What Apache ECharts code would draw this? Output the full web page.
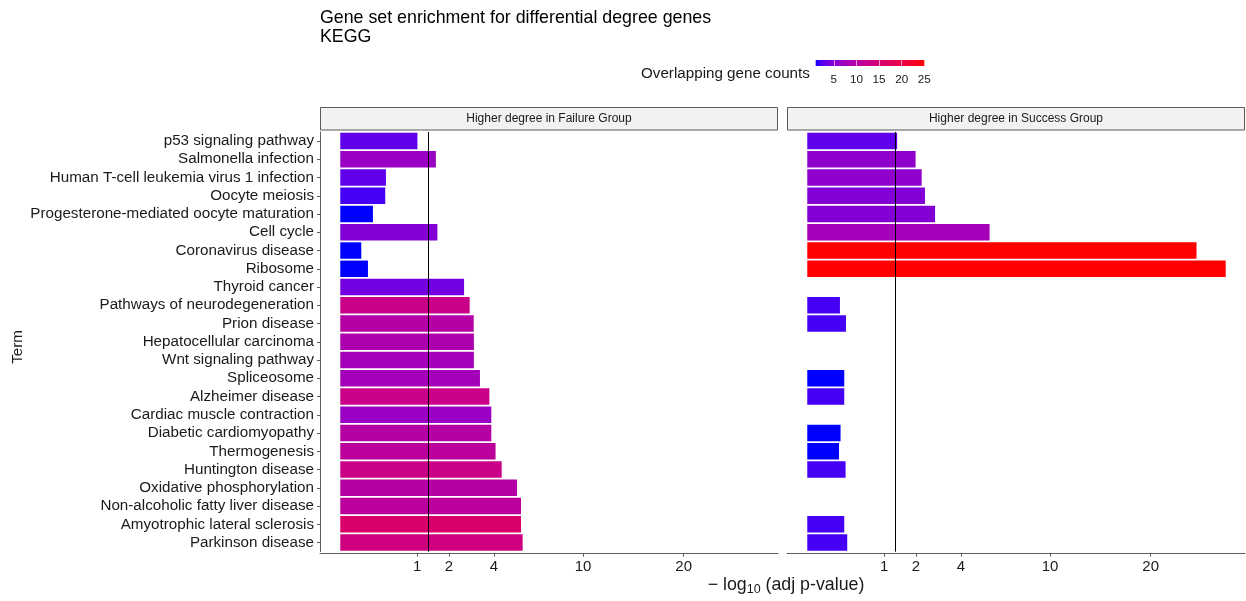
<!DOCTYPE html>
<html>
<head>
<meta charset="utf-8">
<script src="https://cdn.jsdelivr.net/npm/echarts@6/dist/echarts.min.js"></script>
<style>
  html, body { margin: 0; padding: 0; background: #ffffff; }
  #chart { width: 1246px; height: 601px; }
</style>
</head>
<body>
<div id="chart"></div>
<script>
// ---------------- DATA ----------------
const categories = [
  'p53 signaling pathway', 'Salmonella infection', 'Human T-cell leukemia virus 1 infection',
  'Oocyte meiosis', 'Progesterone-mediated oocyte maturation', 'Cell cycle',
  'Coronavirus disease', 'Ribosome', 'Thyroid cancer', 'Pathways of neurodegeneration',
  'Prion disease', 'Hepatocellular carcinoma', 'Wnt signaling pathway', 'Spliceosome',
  'Alzheimer disease', 'Cardiac muscle contraction', 'Diabetic cardiomyopathy',
  'Thermogenesis', 'Huntington disease', 'Oxidative phosphorylation',
  'Non-alcoholic fatty liver disease', 'Amyotrophic lateral sclerosis', 'Parkinson disease'
];
// -log10(adj p-value)
const failureLogP = [1.01, 1.55, 0.354, 0.343, 0.181, 1.60, 0.075, 0.130, 2.60, 2.84, 3.02, 3.03,
  3.03, 3.31, 3.77, 3.87, 3.87, 4.09, 4.42, 5.30, 5.54, 5.54, 5.64];
const failureCount = [3, 7, 3, 2, 1, 5, 1, 1, 4, 13, 10, 9, 8, 8, 13, 7, 10, 11, 13, 10, 11, 16, 14];
const successLogP = [1.37, 1.99, 2.22, 2.35, 2.77, 5.64, 25.7, 29.7, null, 0.181, 0.254, null,
  null, 0.232, 0.232, null, 0.188, 0.171, 0.249, null, null, 0.232, 0.271];
const successCount = [3, 6, 6, 5, 5, 8, 25, 25, null, 2, 2, null, null, 1, 2, null, 1, 1, 2,
  null, null, 2, 2];
const panelTitles = ['Higher degree in Failure Group', 'Higher degree in Success Group'];
const xTickLabels = [1, 2, 4, 10, 20];
const legendTicks = [5, 10, 15, 20, 25];
const countRange = [1, 25];
const pThreshold = 0.05;

// ---------------- helpers ----------------
function srgbToLin(c) { c /= 255; return c <= 0.04045 ? c / 12.92 : Math.pow((c + 0.055) / 1.055, 2.4); }
function linToSrgb(c) { c = Math.max(0, Math.min(1, c)); const v = c <= 0.0031308 ? 12.92 * c : 1.055 * Math.pow(c, 1 / 2.4) - 0.055; return Math.round(v * 255); }
const Wn = [0.95047, 1, 1.08883];
function rgbToLab(r, g, b) {
  const R = srgbToLin(r), G = srgbToLin(g), B = srgbToLin(b);
  const X = 0.4124 * R + 0.3576 * G + 0.1805 * B;
  const Y = 0.2126 * R + 0.7152 * G + 0.0722 * B;
  const Z = 0.0193 * R + 0.1192 * G + 0.9505 * B;
  const f = t => t > 216 / 24389 ? Math.cbrt(t) : (24389 / 27 * t + 16) / 116;
  const fx = f(X / Wn[0]), fy = f(Y / Wn[1]), fz = f(Z / Wn[2]);
  return [116 * fy - 16, 500 * (fx - fy), 200 * (fy - fz)];
}
function labToHex(L, a, b) {
  const fy = (L + 16) / 116, fx = fy + a / 500, fz = fy - b / 200;
  const inv = t => t * t * t > 216 / 24389 ? t * t * t : (116 * t - 16) / (24389 / 27);
  const X = inv(fx) * Wn[0], Y = inv(fy) * Wn[1], Z = inv(fz) * Wn[2];
  const R = 3.2406 * X - 1.5372 * Y - 0.4986 * Z;
  const G = -0.9689 * X + 1.8758 * Y + 0.0415 * Z;
  const B = 0.0557 * X - 0.2040 * Y + 1.0570 * Z;
  const h = v => ('0' + linToSrgb(v).toString(16)).slice(-2);
  return '#' + h(R) + h(G) + h(B);
}
const lowLab = rgbToLab(0, 0, 255), highLab = rgbToLab(255, 0, 0);
const gradientStops = [];
for (let i = 0; i <= 48; i++) {
  const t = i / 48;
  gradientStops.push(labToHex(
    lowLab[0] + (highLab[0] - lowLab[0]) * t,
    lowLab[1] + (highLab[1] - lowLab[1]) * t,
    lowLab[2] + (highLab[2] - lowLab[2]) * t));
}

const sqrtT = v => Math.sqrt(v);
function buildData(logP, counts) {
  const out = [];
  categories.forEach((c, i) => {
    if (logP[i] != null) out.push([sqrtT(logP[i]), i, counts[i]]);
  });
  return out;
}

const FONT = 'Liberation Sans, Arial, Helvetica, sans-serif';
const xMin = -0.264, xMax = 5.701;
const gridTop = 131.9, gridH = 419.8, gridW = 458;
const gridLefts = [320, 787];
const axisGrey = '#5e5e5e';
const textDark = '#1a1a1a';
const legendBox = { x: 815.7, y: 60, w: 108.6, h: 6 };

function makeXAxis(gi) {
  return {
    type: 'value', gridIndex: gi, min: xMin, max: xMax, offset: 2,
    axisLine: { show: true, onZero: false, lineStyle: { color: axisGrey, width: 1 } },
    splitLine: { show: false },
    axisTick: { show: true, length: 3, lineStyle: { color: axisGrey }, customValues: xTickLabels.map(sqrtT) },
    axisLabel: {
      show: true, customValues: xTickLabels.map(sqrtT), fontSize: 15, color: textDark,
      fontFamily: FONT, margin: 5.5,
      formatter: v => String(Math.round(v * v))
    }
  };
}
function makeYAxis(gi, showLabels) {
  return {
    type: 'category', gridIndex: gi, data: categories, inverse: true,
    axisLine: { show: showLabels, onZero: false, lineStyle: { color: axisGrey, width: 1 } },
    axisTick: { show: showLabels, alignWithLabel: true, interval: 0, length: 3, lineStyle: { color: axisGrey } },
    axisLabel: { show: showLabels, interval: 0, fontSize: 15.2, color: textDark, fontFamily: FONT, margin: 6 },
    splitLine: { show: false }
  };
}
function makeSeries(gi, logP, counts) {
  return {
    type: 'bar', xAxisIndex: gi, yAxisIndex: gi, barWidth: '90%',
    data: buildData(logP, counts), encode: { x: 0, y: 1 },
    itemStyle: { borderWidth: 0 },
    emphasis: { disabled: true },
    markLine: {
      silent: true, symbol: 'none', label: { show: false },
      lineStyle: { color: '#000000', width: 1, type: 'solid' },
      data: [{ xAxis: sqrtT(-Math.log10(pThreshold)) }]
    }
  };
}

const graphics = [];
panelTitles.forEach((t, i) => {
  graphics.push({
    type: 'rect', shape: { x: gridLefts[i] + 0.5, y: 107.5, width: gridW - 1, height: 22.5 },
    style: { fill: '#f2f2f2', stroke: '#5a5a5a', lineWidth: 1 }, z: 10
  });
  graphics.push({
    type: 'text', x: gridLefts[i] + gridW / 2, y: 119,
    style: { text: t, fontSize: 12, fill: textDark, fontFamily: FONT, align: 'center', verticalAlign: 'middle' }, z: 11
  });
});
graphics.push(
  { type: 'text', x: 320, y: 18.5, style: { text: 'Gene set enrichment for differential degree genes', fontSize: 17.8, fill: '#000', fontFamily: FONT, align: 'left', verticalAlign: 'middle' } },
  { type: 'text', x: 320, y: 37, style: { text: 'KEGG', fontSize: 17.8, fill: '#000', fontFamily: FONT, align: 'left', verticalAlign: 'middle' } },
  { type: 'text', x: 641, y: 74, style: { text: 'Overlapping gene counts', fontSize: 15.2, fill: textDark, fontFamily: FONT, align: 'left', verticalAlign: 'middle' } },
  { type: 'text', x: 18, y: 347, rotation: Math.PI / 2, style: { text: 'Term', fontSize: 15.2, fill: textDark, fontFamily: FONT, align: 'center', verticalAlign: 'middle' } },
  { type: 'rect', shape: { x: legendBox.x, y: legendBox.y, width: legendBox.w, height: legendBox.h },
    style: { fill: new echarts.graphic.LinearGradient(0, 0, 1, 0,
      gradientStops.map((c, i) => ({ offset: i / (gradientStops.length - 1), color: c }))) }, z: 5 },
  { type: 'text', x: 786, y: 585, style: {
      text: '{m|− log}{s|10}{m| (adj p-value)}', fontFamily: FONT, align: 'center', verticalAlign: 'middle',
      rich: {
        m: { fontSize: 17.8, fill: textDark, fontFamily: FONT },
        s: { fontSize: 12.5, fill: textDark, fontFamily: FONT, padding: [9, 0, 0, 0] }
      } } }
);

const option = {
  animation: false,
  backgroundColor: '#ffffff',
  textStyle: { fontFamily: FONT },
  grid: [
    { left: gridLefts[0], top: gridTop, width: gridW, height: gridH, containLabel: false },
    { left: gridLefts[1], top: gridTop, width: gridW, height: gridH, containLabel: false },
    { left: legendBox.x, top: legendBox.y, width: legendBox.w, height: legendBox.h, containLabel: false }
  ],
  xAxis: [
    makeXAxis(0), makeXAxis(1),
    {
      type: 'value', gridIndex: 2, min: countRange[0], max: countRange[1], position: 'bottom', z: 20,
      axisLine: { show: false }, splitLine: { show: false },
      axisTick: { show: true, inside: true, length: 6, customValues: legendTicks.slice(0, 4), lineStyle: { color: 'rgba(255,255,255,0.6)', width: 1 } },
      axisLabel: { show: true, customValues: legendTicks, fontSize: 11.7, color: textDark, fontFamily: FONT, margin: 7.5 }
    }
  ],
  yAxis: [
    makeYAxis(0, true), makeYAxis(1, false),
    { type: 'value', gridIndex: 2, show: false, min: 0, max: 1 }
  ],
  visualMap: {
    type: 'continuous', show: false, min: countRange[0], max: countRange[1], dimension: 2, seriesIndex: [0, 1],
    inRange: { color: gradientStops }
  },
  series: [
    makeSeries(0, failureLogP, failureCount),
    makeSeries(1, successLogP, successCount)
  ],
  graphic: graphics
};

const chart = echarts.init(document.getElementById('chart'), null, { renderer: 'canvas' });
chart.setOption(option);
</script>
</body>
</html>
